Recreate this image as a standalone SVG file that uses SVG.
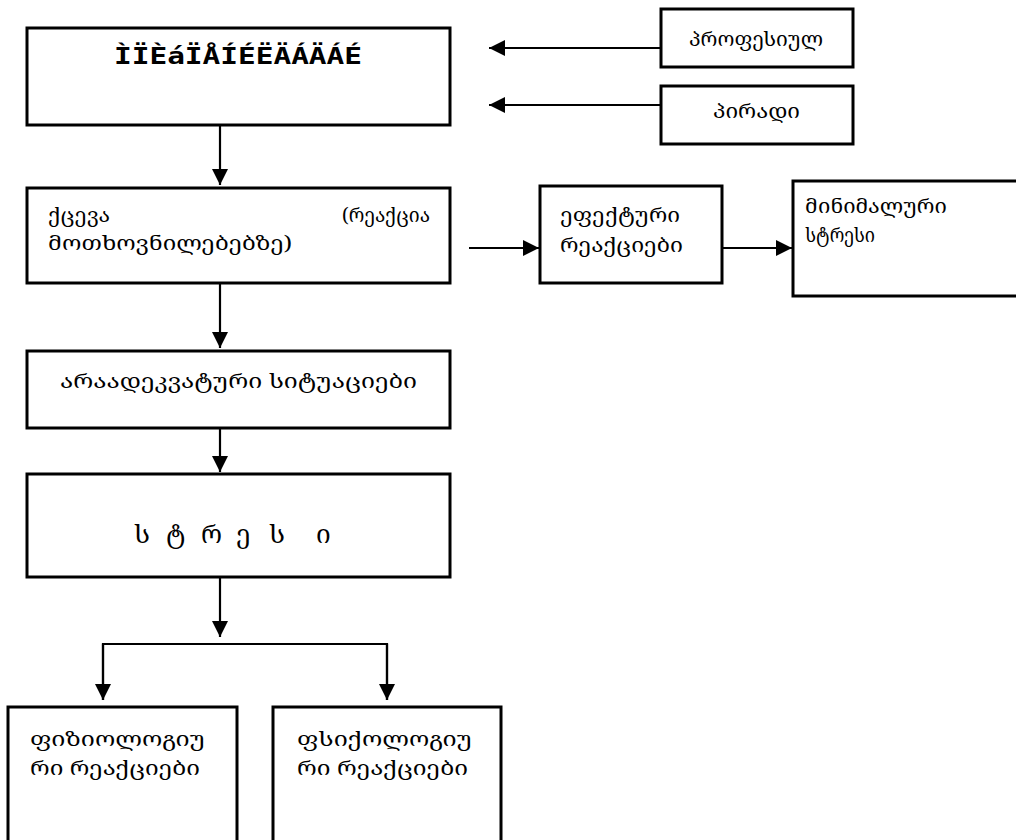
<svg xmlns="http://www.w3.org/2000/svg" width="1016" height="840" viewBox="0 0 1016 840">
  <defs>
    <marker id="arrow" markerUnits="userSpaceOnUse" markerWidth="16" markerHeight="16" refX="16" refY="8" orient="auto">
      <path d="M0,0 L16,8 L0,16 z" fill="#000"/>
    </marker>
    <style>
      .box { fill: #fff; stroke: #000; stroke-width: 3; }
      .ka { font-family: "Noto Serif Georgian", "DejaVu Serif", "DejaVu Sans", serif; font-size: 20px; fill: #000; }
      .title { font-family: "DejaVu Sans Mono", "Liberation Mono", monospace; font-weight: bold; font-size: 23px; fill: #000; }
      .link { fill: none; stroke: #000; stroke-width: 2.2; }
      .link.head { marker-end: url(#arrow); }
    </style>
  </defs>
  <rect width="1016" height="840" fill="#fff"/>

  <!-- connectors -->
  <g id="connectors">
    <line class="link head" x1="220" y1="125" x2="220" y2="185"/>
    <line class="link head" x1="220" y1="283" x2="220" y2="348"/>
    <line class="link head" x1="220" y1="428" x2="220" y2="472"/>
    <line class="link head" x1="220" y1="577" x2="220" y2="637"/>
    <polyline class="link" points="103,700 103,644 387,644 387,700"/>
    <line class="link head" x1="103" y1="644" x2="103" y2="700"/>
    <line class="link head" x1="387" y1="644" x2="387" y2="700"/>
    <line class="link head" x1="469" y1="248" x2="539" y2="248"/>
    <line class="link head" x1="722" y1="248" x2="792" y2="248"/>
    <line class="link head" x1="661" y1="48" x2="489" y2="48"/>
    <line class="link head" x1="661" y1="105" x2="489" y2="105"/>
  </g>

  <g id="node-title">
    <rect class="box" x="27" y="28" width="423" height="97"/>
    <text class="title" x="114" y="64" textLength="248" lengthAdjust="spacingAndGlyphs">ÌÏÈáÏÅÍÉËÄÁÄÁÉ</text>
  </g>

  <g id="node-professional">
    <rect class="box" x="661" y="9" width="192" height="58"/>
    <text class="ka" x="689" y="46" textLength="134" lengthAdjust="spacingAndGlyphs">პროფესიულ</text>
  </g>

  <g id="node-personal">
    <rect class="box" x="661" y="86" width="192" height="58"/>
    <text class="ka" x="713" y="118" textLength="87" lengthAdjust="spacingAndGlyphs">პირადი</text>
  </g>

  <g id="node-behaviour">
    <rect class="box" x="27" y="188" width="423" height="95"/>
    <text class="ka" x="48" y="222" textLength="62" lengthAdjust="spacingAndGlyphs">ქცევა</text>
    <text class="ka" x="342" y="222" textLength="88" lengthAdjust="spacingAndGlyphs">(რეაქცია</text>
    <text class="ka" x="48" y="250" textLength="244" lengthAdjust="spacingAndGlyphs">მოთხოვნილებებზე)</text>
  </g>

  <g id="node-effective">
    <rect class="box" x="540" y="186" width="182" height="97"/>
    <text class="ka" x="560" y="222" textLength="120" lengthAdjust="spacingAndGlyphs">ეფექტური</text>
    <text class="ka" x="560" y="252" textLength="123" lengthAdjust="spacingAndGlyphs">რეაქციები</text>
  </g>

  <g id="node-minimal">
    <rect class="box" x="793" y="181" width="240" height="115"/>
    <text class="ka" x="805" y="213" textLength="142" lengthAdjust="spacingAndGlyphs">მინიმალური</text>
    <text class="ka" x="805" y="242" textLength="70" lengthAdjust="spacingAndGlyphs">სტრესი</text>
  </g>

  <g id="node-inadequate">
    <rect class="box" x="27" y="351" width="423" height="77"/>
    <text class="ka" x="60" y="388" textLength="357" lengthAdjust="spacingAndGlyphs">არაადეკვატური სიტუაციები</text>
  </g>

  <g id="node-stress">
    <rect class="box" x="27" y="474" width="423" height="103"/>
    <text class="ka" style="font-size:26px" x="134 166 201 236 269 316" y="543">სტრესი</text>
  </g>

  <g id="node-physiological">
    <rect class="box" x="8" y="707" width="229" height="150"/>
    <text class="ka" x="30" y="746" textLength="175" lengthAdjust="spacingAndGlyphs">ფიზიოლოგიუ</text>
    <text class="ka" x="30" y="775" textLength="170" lengthAdjust="spacingAndGlyphs">რი რეაქციები</text>
  </g>

  <g id="node-psychological">
    <rect class="box" x="273" y="707" width="228" height="150"/>
    <text class="ka" x="297" y="746" textLength="175" lengthAdjust="spacingAndGlyphs">ფსიქოლოგიუ</text>
    <text class="ka" x="297" y="775" textLength="171" lengthAdjust="spacingAndGlyphs">რი რეაქციები</text>
  </g>
</svg>
